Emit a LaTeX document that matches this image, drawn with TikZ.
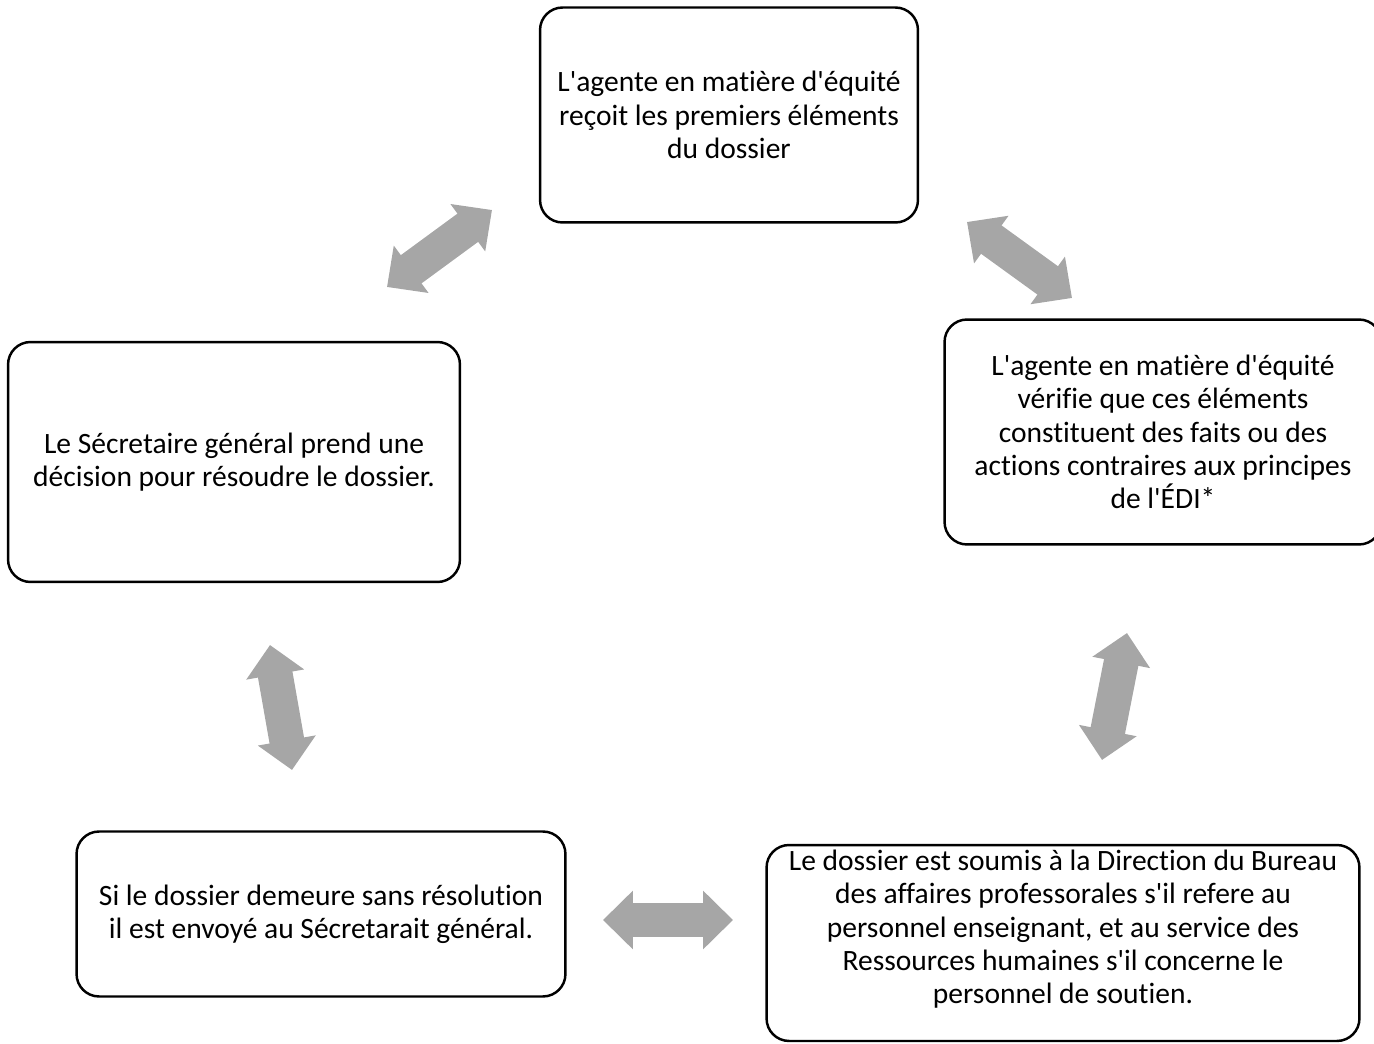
\documentclass[tikz,border=0pt]{standalone}
\usepackage{fontspec}
\setmainfont{Carlito}[Ligatures={TeXOff,CommonOff}]
\usetikzlibrary{arrows.meta}

\definecolor{arrowgray}{RGB}{166,166,166}

\begin{document}
\begin{tikzpicture}[x=0.02cm, y=-0.02cm,
    box/.style={draw=black, line width=1.4pt, rounded corners=0.45cm, align=center,
        inner sep=0pt, font=\fontsize{16.8}{18.9}\selectfont},
    bigarrow/.style={draw=arrowgray, line width=0.7cm,
        {Triangle[width=1.14cm,length=0.6cm]}-{Triangle[width=1.14cm,length=0.6cm]}}]

    \useasboundingbox (0,0) rectangle (1374,1044);

    % Top box
    \node[box, minimum width=7.56cm, minimum height=4.3cm] (recoit) at (729,115)
        {L'agente en matière d'équité\\reçoit les premiers éléments\\du dossier};

    % Right box
    \node[box, minimum width=8.74cm, minimum height=4.5cm] (verifie) at (1163,432)
        {L'agente en matière d'équité\\vérifie que ces éléments\\constituent des faits ou des\\actions contraires aux principes\\de l'ÉDI*};

    % Bottom right box
    \node[box, minimum width=11.86cm, minimum height=3.92cm, text depth=0.65cm] (soumis) at (1063,943)
        {Le dossier est soumis à la Direction du Bureau\\des affaires professorales s'il refere au\\personnel enseignant, et au service des\\Ressources humaines s'il concerne le\\personnel de soutien.};

    % Bottom left box
    \node[box, minimum width=9.78cm, minimum height=3.3cm] (envoye) at (321,914)
        {Si le dossier demeure sans résolution\\il est envoyé au Sécretarait général.};

    % Left box
    \node[box, minimum width=9.04cm, minimum height=4.8cm] (decision) at (234,462)
        {Le Sécretaire général prend une\\décision pour résoudre le dossier.};

    % Arrows
    \coordinate (a1s) at (387,287);
    \coordinate (a1e) at (492,210);
    \draw[bigarrow] (a1s) -- (a1e);

    \coordinate (a2s) at (967,222);
    \coordinate (a2e) at (1072,298);
    \draw[bigarrow] (a2s) -- (a2e);

    \coordinate (a3s) at (1127,633);
    \coordinate (a3e) at (1102,760);
    \draw[bigarrow] (a3s) -- (a3e);

    \coordinate (a4s) at (733,920);
    \coordinate (a4e) at (603,920);
    \draw[bigarrow] (a4s) -- (a4e);

    \coordinate (a5s) at (292,770);
    \coordinate (a5e) at (270,645);
    \draw[bigarrow] (a5s) -- (a5e);

\end{tikzpicture}
\end{document}
